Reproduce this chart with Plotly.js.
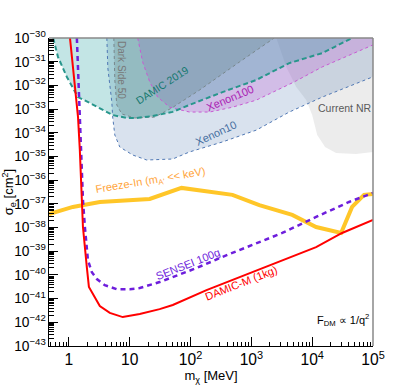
<!DOCTYPE html>
<html><head><meta charset="utf-8">
<script src="https://cdn.plot.ly/plotly-3.0.1.min.js"></script>
<style>html,body{margin:0;padding:0;background:#fff}#chart{width:407px;height:385px}</style>
</head><body><div id="chart"></div>
<script>
// Shaded exclusion regions (boundary curves, region lies above them)
const damic2019X = [0.55, 0.66, 0.93, 1.41, 2.21, 5.26, 8.9, 13, 23.8, 50.7, 96, 335, 1210, 4200, 14600, 45300];
const damic2019Y = [1e-30, 1.6e-31, 2.2e-32, 3.2e-33, 1.8e-33, 5.6e-34, 4.2e-34, 4.2e-34, 5.1e-34, 7.6e-34, 1.5e-33, 5.2e-33, 1.7e-32, 8.7e-32, 2.3e-31, 1e-30];

const xenon10X = [4.2, 4.36, 5.07, 5.26, 5.68, 6.86, 11.2, 19, 50.7, 96, 335, 1210, 4200, 14600, 100000];
const xenon10Y = [1e-30, 5.4e-32, 2.0e-33, 4.2e-34, 8.1e-35, 2.5e-35, 1.15e-35, 7.1e-36, 7.8e-36, 1.55e-35, 4.1e-35, 1.3e-34, 7.5e-34, 3.2e-33, 2.3e-32];

const xenon100X = [13.5, 16.3, 21.3, 28.8, 45.3, 96, 205, 489, 1210, 5070, 14600, 100000];
const xenon100Y = [1e-30, 9.7e-32, 1.4e-32, 3.2e-33, 1.2e-33, 7.5e-34, 7.5e-34, 1.2e-33, 2.4e-33, 1.4e-32, 6.0e-32, 5.1e-31];

const darkSideX = [5.47, 5.68, 6.12, 7.4, 12.1, 25.7, 48.8, 141, 636, 2380];
const darkSideY = [1e-30, 1.7e-32, 1.5e-33, 6.2e-34, 4.2e-34, 4.6e-34, 1.1e-33, 6.4e-33, 9.7e-32, 1e-30];

const currentNRX = [2570, 3750, 5470, 7980, 10000, 12100, 16300, 24700, 52600, 100000];
const currentNRY = [1e-30, 6.0e-32, 8.5e-33, 2.4e-33, 5.6e-34, 8.1e-35, 2.5e-35, 1.4e-35, 1.27e-35, 1.55e-35];

// Projection / theory curves
const damicMX = [1.04, 1.25, 1.41, 1.51, 1.63, 1.70, 1.97, 2.13, 3.22, 4.7, 7.67, 14.6, 31, 51, 183, 927, 3220, 11600, 31000, 100000];
const damicMY = [1e-30, 1.26e-32, 4.7e-34, 1.9e-35, 1.95e-37, 1.05e-38, 2.1e-40, 3.1e-41, 4.9e-42, 2.5e-42, 1.66e-42, 2.24e-42, 3.6e-42, 5.4e-42, 2.3e-41, 1.2e-40, 4.3e-40, 1.5e-39, 5.9e-39, 2.1e-38];

const senseiX = [1.35, 1.46, 1.57, 1.70, 1.83, 2.05, 2.38, 2.88, 3.89, 6.12, 10, 14.6, 31, 125, 436, 927, 3220, 11600, 40400, 100000];
const senseiY = [1e-30, 2.4e-33, 1.9e-35, 1.45e-37, 1.05e-38, 4.3e-40, 1.3e-40, 6.7e-41, 3.7e-41, 2.5e-41, 2.5e-41, 2.8e-41, 5.0e-41, 1.95e-40, 7.6e-40, 1.66e-39, 5.9e-39, 2.8e-38, 1.2e-37, 2.9e-37];

const freezeInX = [0.47, 1.16, 3.22, 21.3, 71, 489, 1350, 4700, 11600, 29900, 45300, 71200, 100000];
const freezeInY = [3.7e-38, 7.4e-38, 1.2e-37, 1.6e-37, 4.7e-37, 2.4e-37, 8.9e-38, 3.4e-38, 1.05e-38, 5.9e-39, 7.4e-38, 2.4e-37, 2.6e-37];

const xRange = [0.47, 1e5];
const yRange = [1e-43, 1e-30];
const yAbove = 1e-28;

function region(xs, ys, fill) {
  const x = xs.concat([xs[xs.length - 1], xs[0]]);
  const y = ys.concat([yAbove, yAbove]);
  return {x: x, y: y, mode: 'lines', fill: 'toself', fillcolor: fill, line: {width: 0}, hoverinfo: 'skip', type: 'scatter'};
}
function edge(xs, ys, color, width, dash) {
  return {x: xs, y: ys, mode: 'lines', line: {color: color, width: width, dash: dash}, hoverinfo: 'skip', type: 'scatter'};
}

const traces = [
  region(currentNRX, currentNRY, 'rgba(150,150,150,0.18)'),
  region(xenon10X, xenon10Y, 'rgba(90,130,180,0.23)'),
  region(xenon100X, xenon100Y, 'rgba(190,80,210,0.25)'),
  region(darkSideX, darkSideY, 'rgba(110,110,110,0.25)'),
  region(damic2019X, damic2019Y, 'rgba(40,160,160,0.28)'),
  edge(xenon10X, xenon10Y, 'rgb(80,120,180)', 1, 'dot'),
  edge(xenon100X, xenon100Y, 'rgb(200,90,210)', 1, 'dot'),
  edge(darkSideX, darkSideY, 'rgb(120,135,140)', 1, 'dot'),
  edge(damic2019X, damic2019Y, 'rgb(40,150,140)', 2, '5px,3px'),
  edge(freezeInX, freezeInY, 'rgb(255,198,40)', 4, 'solid'),
  edge(senseiX, senseiY, 'rgb(110,30,220)', 2.5, '5px,4px'),
  edge(damicMX, damicMY, 'rgb(255,0,0)', 2, 'solid')
];

function px2paperX(px) { return (px - 49) / 324; }
function px2paperY(py) { return (346 - py) / 308; }
function label(text, px, py, color, size, angle) {
  return {text: text, xref: 'paper', yref: 'paper', x: px2paperX(px), y: px2paperY(py),
    xanchor: 'center', yanchor: 'middle', showarrow: false, textangle: angle,
    font: {size: size, color: color, family: 'Liberation Sans, Arial, sans-serif'}};
}

const layout = {
  width: 407, height: 385,
  margin: {l: 49, r: 34, t: 38, b: 39},
  paper_bgcolor: '#fff', plot_bgcolor: '#fff',
  showlegend: false,
  font: {family: 'Liberation Sans, Arial, sans-serif', color: '#000', size: 12},
  xaxis: {type: 'log', range: [Math.log10(xRange[0]), Math.log10(xRange[1])], dtick: 1,
    exponentformat: 'power', ticks: 'inside', ticklen: 9, tickcolor: '#000', tickwidth: 1,
    minor: {ticks: 'inside', ticklen: 4.5, tickcolor: '#000', tickwidth: 1, showgrid: false},
    showline: true, linecolor: '#000', linewidth: 1, showgrid: false, zeroline: false,
    tickfont: {size: 12.5}, title: {text: 'm<sub>χ</sub> [MeV]', font: {size: 13}, standoff: 0}},
  yaxis: {type: 'log', range: [Math.log10(yRange[0]), Math.log10(yRange[1])], dtick: 1,
    exponentformat: 'power', ticks: 'inside', ticklen: 9, tickcolor: '#000', tickwidth: 1,
    minor: {ticks: 'inside', ticklen: 4.5, tickcolor: '#000', tickwidth: 1, showgrid: false},
    showline: true, linecolor: '#000', linewidth: 1, showgrid: false, zeroline: false,
    tickfont: {size: 11}, title: {text: 'σ<sub>e</sub> [cm<sup>2</sup>]', font: {size: 13}, standoff: 2}},
  shapes: [
    {type: 'line', xref: 'paper', yref: 'paper', x0: 0, x1: 1, y0: 1, y1: 1, line: {color: '#888', width: 1.5}},
    {type: 'line', xref: 'paper', yref: 'paper', x0: 1, x1: 1, y0: 0, y1: 1, line: {color: '#888', width: 1.5}}
  ],
  annotations: [
    label('Dark Side 50', 122, 70, 'rgb(120,120,120)', 10, 90),
    label('DAMIC 2019', 162, 85, 'rgb(20,120,110)', 10.5, -33),
    label('Xenon100', 230, 98, 'rgb(170,30,180)', 11, -23),
    label('Xenon10', 216, 133, 'rgb(70,110,160)', 11, -25),
    label('Current NR', 345, 108, 'rgb(90,90,90)', 10.5, 0),
    label("Freeze-In (m<sub>A'</sub> &lt;&lt; keV)", 150, 181, 'rgb(255,165,60)', 11, -9.5),
    label('SENSEI 100g', 188, 264, 'rgb(110,30,220)', 11, -21.5),
    label('DAMIC-M (1kg)', 241, 283, 'rgb(255,0,0)', 11, -21.5),
    label('F<sub>DM</sub> ∝ 1/q<sup>2</sup>', 343, 320, '#000', 11, 0)
  ]
};

Plotly.newPlot('chart', traces, layout, {staticPlot: true, displayModeBar: false});
</script>
</body></html>
